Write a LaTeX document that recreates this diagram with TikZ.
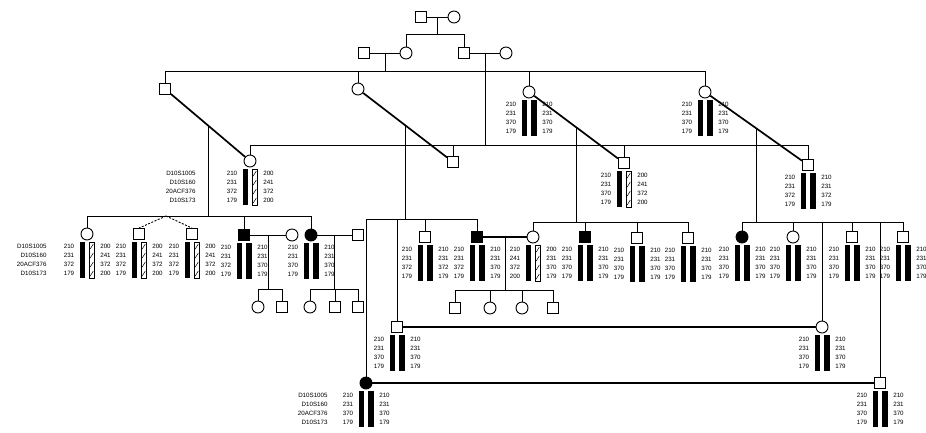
\documentclass[tikz,border=0pt]{standalone}
\usepackage{fontspec}
\setmainfont{Liberation Sans}
\usetikzlibrary{calc}
\newcommand{\onebar}[3]{%
  \if#3B
    \fill ({#1},{#2}) rectangle ({#1+5.5},{#2+36});
  \else
    \draw[line width=0.6pt] ({#1},{#2}) rectangle ({#1+5.5},{#2+36});
    \foreach \k in {0,1,2,3} \draw[line width=0.5pt] ({#1+1.2},{#2+7+\k*9}) -- ({#1+4.3},{#2+2+\k*9});
  \fi}
\newcommand{\hp}[7]{%
  \onebar{#2-7.5}{#3+8}{#4}%
  \onebar{#2+2}{#3+8}{#5}%
  \foreach \v [count=\i] in {#6} \node[num] (#1l\i) at ({#2-18},{#3+3.5+\i*9}) {\v};
  \foreach \v [count=\i] in {#7} \node[num] (#1r\i) at ({#2+18.5},{#3+3.5+\i*9}) {\v};
}
\newcommand{\mk}[3]{%
  \foreach \v [count=\i] in {D10S1005,D10S160,20ACF376,D10S173} \node[mklab] (#1m\i) at ({#2},{#3+3.5+\i*9}) {\v};}
\newcommand{\consline}[2]{%
  \draw ([yshift=0.8pt]#1.east) -- ([yshift=0.8pt]#2.west);
  \draw ([yshift=-0.8pt]#1.east) -- ([yshift=-0.8pt]#2.west);}
\begin{document}
\begin{tikzpicture}[x=1pt,y=-1pt, line width=0.9pt,
  male/.style={draw, rectangle, minimum size=11pt, inner sep=0pt, fill=white, line width=0.9pt},
  female/.style={draw, circle, minimum size=12pt, inner sep=0pt, fill=white, line width=0.9pt},
  aff/.style={fill=black},
  num/.style={font=\fontsize{6.2}{6.2}\selectfont, inner sep=0pt, anchor=center},
  mklab/.style={font=\fontsize{6.2}{6.2}\selectfont, inner sep=0pt, anchor=east},
  diag/.style={line width=1.7pt},
  twin/.style={dash pattern=on 2pt off 1.5pt},
]
\useasboundingbox (0,0) rectangle (926,432);
% Generation I
\node[male] (I1) at (421,17) {};
\node[female] (I2) at (454,17) {};
% Generation II
\node[male] (II1) at (364,53) {};
\node[female] (II2) at (406,53) {};
\node[male] (II3) at (464,53) {};
\node[female] (II4) at (506,53) {};
% Generation III
\node[male] (A1) at (165,89) {};
\node[female] (A2) at (358,89) {};
\node[female] (A3) at (529,92) {};
\node[female] (A4) at (705,92) {};
\node[female] (B1) at (250,161) {};
\node[male] (B2) at (453,162) {};
\node[male] (B3) at (624,163) {};
\node[male] (B4) at (808,165) {};
% Generation IV
\node[female] (C1) at (87,234) {};
\node[male] (C2) at (139,234) {};
\node[male] (C3) at (192,234) {};
\node[male,aff] (C4) at (244,235) {};
\node[female] (S4) at (292,235) {};
\node[female,aff] (C5) at (311,235) {};
\node[male] (S5) at (358,235) {};
\node[female] (D1) at (258,307) {};
\node[male] (D2) at (282,307) {};
\node[female] (D3) at (310,307) {};
\node[male] (D4) at (335,307) {};
\node[male] (D5) at (358,307) {};
\node[female,aff] (E1) at (366,383) {};
\node[male] (E2) at (397,327) {};
\node[male] (E3) at (425,237) {};
\node[male,aff] (E4) at (477,237) {};
\node[female] (F1) at (533,237) {};
\node[male,aff] (F2) at (585,237) {};
\node[male] (F3) at (637,238) {};
\node[male] (F4) at (688,238) {};
\node[male] (G1) at (455,308) {};
\node[female] (G2) at (490,308) {};
\node[female] (G3) at (522,308) {};
\node[male] (G4) at (553,308) {};
\node[female,aff] (H1) at (742,237) {};
\node[female] (H2) at (793,237) {};
\node[female] (H3) at (822,327) {};
\node[male] (H4) at (852,237) {};
\node[male] (H5) at (880,383) {};
\node[male] (H6) at (903,237) {};

% sibship levels
\coordinate (s0) at (0,34);
\coordinate (sA) at (0,71);
\coordinate (sB) at (0,145);
\coordinate (s1) at (0,216);
\coordinate (s2) at (0,219);
\coordinate (s3) at (0,222);
\coordinate (s4) at (0,222);
\coordinate (sc) at (0,289);
\coordinate (sg) at (0,290);

% Gen I -> II
\draw (I1) -- (I2);
\coordinate (p0) at ($(I1)!0.5!(I2)$);
\draw (p0) -- (p0 |- s0);
\draw (II2.north |- s0) -- (II3.north |- s0);
\foreach \n in {II2,II3} \draw (\n.north) -- (\n.north |- s0);
% Gen II couples
\draw (II1) -- (II2);
\coordinate (p1) at ($(II1)!0.5!(II2)$);
\draw (p1) -- (p1 |- sA);
\draw (II3) -- (II4);
\coordinate (p2) at ($(II3)!0.5!(II4)$);
\draw (p2) -- (p2 |- sB);
% Gen III sibships
\draw (A1.north |- sA) -- (A4.north |- sA);
\foreach \n in {A1,A2,A3,A4} \draw (\n.north) -- (\n.north |- sA);
\draw (B1.north |- sB) -- (B4.north |- sB);
\foreach \n in {B1,B2,B3,B4} \draw (\n.north) -- (\n.north |- sB);
% diagonal marriages
\draw[diag] (A1) -- (B1);
\draw[diag] (A2) -- (B2);
\draw[diag] (A3) -- (B3);
\draw[diag] (A4) -- (B4);
\path (A1) -- (B1) coordinate[pos=0.5] (m1);
\path (A2) -- (B2) coordinate[pos=0.5] (m2);
\path (A3) -- (B3) coordinate[pos=0.5] (m3);
\path (A4) -- (B4) coordinate[pos=0.5] (m4);
\draw (m1) -- (m1 |- s1);
\draw (m2) -- (m2 |- s2);
\draw (m3) -- (m3 |- s3);
\draw (m4) -- (m4 |- s4);
% sibship 1
\draw (C1.north |- s1) -- (C5.north |- s1);
\foreach \n in {C1,C4,C5} \draw (\n.north) -- (\n.north |- s1);
\coordinate (tw) at (166,216);
\draw[twin] (tw) -- (C2.north);
\draw[twin] (tw) -- (C3.north);
% sibship 2
\draw (E1.north |- s2) -- (E4.north |- s2);
\foreach \n in {E1,E2,E3,E4} \draw (\n.north) -- (\n.north |- s2);
% sibship 3
\draw (F1.north |- s3) -- (F4.north |- s3);
\foreach \n in {F1,F2,F3,F4} \draw (\n.north) -- (\n.north |- s3);
% sibship 4
\draw (H1.north |- s4) -- (H6.north |- s4);
\foreach \n in {H1,H2,H3,H4,H5,H6} \draw (\n.north) -- (\n.north |- s4);
% Gen IV couples and children
\draw (C4) -- (S4);
\coordinate (q1) at ($(C4)!0.5!(S4)$);
\draw (q1) -- (q1 |- sc);
\draw (D1.north |- sc) -- (D2.north |- sc);
\foreach \n in {D1,D2} \draw (\n.north) -- (\n.north |- sc);
\draw (C5) -- (S5);
\coordinate (q2) at ($(C5)!0.5!(S5)$);
\draw (q2) -- (q2 |- sc);
\draw (D3.north |- sc) -- (D5.north |- sc);
\foreach \n in {D3,D4,D5} \draw (\n.north) -- (\n.north |- sc);
\consline{E4}{F1}
\coordinate (q3) at ($(E4)!0.5!(F1)$);
\draw (q3) -- (q3 |- sg);
\draw (G1.north |- sg) -- (G4.north |- sg);
\foreach \n in {G1,G2,G3,G4} \draw (\n.north) -- (\n.north |- sg);
\consline{E2}{H3}
\consline{E1}{H5}

% haplotypes
\hp{b1}{250}{161}{B}{H}{210,231,372,179}{200,241,372,200}
\mk{b1}{196}{161}
\hp{a3}{529}{92}{B}{B}{210,231,370,179}{210,231,370,179}
\hp{a4}{705}{92}{B}{B}{210,231,370,179}{210,231,370,179}
\hp{b3}{624}{163}{B}{H}{210,231,370,179}{200,241,372,200}
\hp{b4}{808}{165}{B}{B}{210,231,372,179}{210,231,372,179}
\hp{c1}{87}{234}{B}{H}{210,231,372,179}{200,241,372,200}
\mk{c1}{47}{234}
\hp{c2}{139}{234}{B}{H}{210,231,372,179}{200,241,372,200}
\hp{c3}{192}{234}{B}{H}{210,231,372,179}{200,241,372,200}
\hp{c4}{244}{235}{B}{B}{210,231,372,179}{210,231,370,179}
\hp{c5}{311}{235}{B}{B}{210,231,370,179}{210,231,370,179}
\hp{e3}{425}{237}{B}{B}{210,231,372,179}{210,231,372,179}
\hp{e4}{477}{237}{B}{B}{210,231,372,179}{210,231,370,179}
\hp{f1}{533}{237}{B}{H}{210,241,372,200}{200,231,370,179}
\hp{f2}{585}{237}{B}{B}{210,231,370,179}{210,231,370,179}
\hp{f3}{637}{238}{B}{B}{210,231,370,179}{210,231,370,179}
\hp{f4}{688}{238}{B}{B}{210,231,370,179}{210,231,370,179}
\hp{h1}{742}{237}{B}{B}{210,231,370,179}{210,231,370,179}
\hp{h2}{793}{237}{B}{B}{210,231,370,179}{210,231,370,179}
\hp{h4}{852}{237}{B}{B}{210,231,370,179}{210,231,370,179}
\hp{h6}{903}{237}{B}{B}{210,231,370,179}{210,231,370,179}
\hp{e2}{397}{327}{B}{B}{210,231,370,179}{210,231,370,179}
\hp{h3}{822}{327}{B}{B}{210,231,370,179}{210,231,370,179}
\hp{e1}{366}{383}{B}{B}{210,231,370,179}{210,231,370,179}
\mk{e1}{328}{383}
\hp{h5}{880}{383}{B}{B}{210,231,370,179}{210,231,370,179}
\end{tikzpicture}
\end{document}
